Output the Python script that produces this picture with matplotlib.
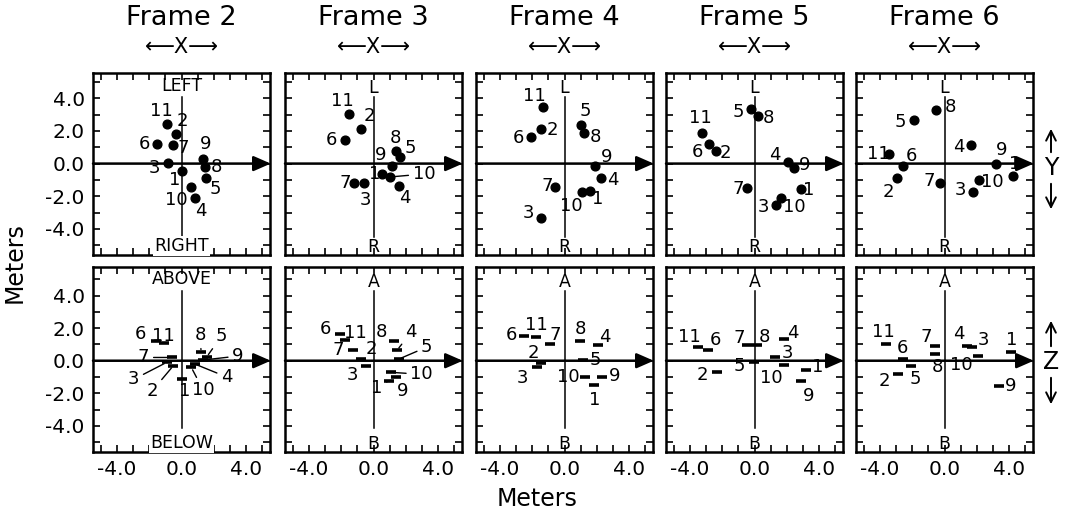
import matplotlib
matplotlib.use("Agg")
import matplotlib.pyplot as plt
from matplotlib.ticker import MultipleLocator, FuncFormatter

plt.rcParams['font.family'] = ['DejaVu Sans']

frames = ["Frame 2", "Frame 3", "Frame 4", "Frame 5", "Frame 6"]
point_ids = ["1", "2", "3", "4", "5", "6", "7", "8", "9", "10", "11"]

# Top row: X-Y view (points 1..11)
f2_xy_x = [0.06, -0.35, -0.86, 0.82, 1.53, -1.53, -0.55, 1.43, 1.33, 0.61, -0.88]
f2_y = [-0.47, 1.84, 0.04, -2.10, -0.88, 1.22, 1.16, -0.20, 0.31, -1.43, 2.45]
f3_xy_x = [0.55, -0.78, -0.57, 1.57, 1.67, -1.80, -1.22, 1.37, 1.12, 1.02, -1.53]
f3_y = [-0.61, 2.14, -1.18, -1.39, 0.41, 1.43, -1.16, 0.78, -0.16, -0.82, 3.06]
f4_xy_x = [1.61, -1.49, -1.49, 2.29, 1.02, -2.10, -0.57, 1.22, 1.92, 1.06, -1.35]
f4_y = [-1.67, 2.14, -3.31, -0.88, 2.35, 1.65, -1.41, 1.90, -0.14, -1.71, 3.49]
f5_xy_x = [2.90, -2.41, 1.31, 2.08, -0.20, -2.82, -0.47, 0.20, 2.45, 1.67, -3.27]
f5_y = [-1.57, 0.78, -2.55, 0.12, 3.33, 1.22, -1.51, 2.92, -0.29, -2.12, 1.88]
f6_xy_x = [4.27, -2.94, 1.76, 1.65, -1.92, -2.57, -0.27, -0.51, 3.20, 2.16, -3.45]
f6_y = [-0.73, -0.86, -1.73, 1.12, 2.69, -0.14, -1.16, 3.27, 0.00, -1.02, 0.61]

# Bottom row: X-Z view (points 1..11)
f2_xz_x = [0.06, -0.51, -0.92, 0.82, 1.57, -1.57, -0.61, 1.22, 1.33, 0.61, -1.08]
f2_z = [-1.12, -0.31, -0.10, -0.20, 0.24, 1.18, 0.20, 0.51, 0.04, -0.41, 1.08]
f3_xz_x = [0.96, -0.78, -0.47, 1.47, 1.57, -2.10, -1.29, 1.27, 1.37, 1.06, -1.76]
f3_z = [-1.22, 0.10, -0.31, 0.65, 0.10, 1.67, 0.65, 1.18, -0.98, -0.71, 1.27]
f4_xz_x = [1.84, -1.49, -1.69, 2.08, 1.16, -2.50, -0.88, 0.96, 2.35, 1.27, -1.76]
f4_z = [-1.47, -0.14, -0.39, 0.98, 0.06, 1.53, 1.04, 1.24, -1.02, -0.98, 1.45]
f5_xz_x = [3.20, -2.31, 1.27, 1.84, -0.06, -2.86, -0.47, 0.14, 2.90, 1.84, -3.53]
f5_z = [-0.55, -0.69, 0.20, 1.35, -0.10, 0.67, 0.98, 0.98, -1.27, -0.24, 0.82]
f6_xz_x = [4.14, -2.86, 1.69, 1.39, -2.08, -2.59, -0.59, -0.59, 3.39, 2.10, -3.61]
f6_z = [0.51, -0.82, 0.82, 0.92, -0.31, 0.10, 0.92, 0.41, -1.53, 0.27, 1.02]

x_tick_labels = ["-4.0", "0.0", "4.0"]
y_tick_labels = ["-4.0", "-2.0", "0.0", "2.0", "4.0"]

top_data = [(f2_xy_x, f2_y), (f3_xy_x, f3_y), (f4_xy_x, f4_y), (f5_xy_x, f5_y), (f6_xy_x, f6_y)]
bot_data = [(f2_xz_x, f2_z), (f3_xz_x, f3_z), (f4_xz_x, f4_z), (f5_xz_x, f5_z), (f6_xz_x, f6_z)]

# label placement (pixel offsets) and leader flags -- styling only
top_off = [
    [(-8,-9),(7,13),(-13,-5),(6,-13),(9,-11),(-12,0),(11,-3),(12,0),(3,15),(-15,-13),(-6,13)],
    [(-8,0),(8,13),(1,-17),(6,-12),(10,9),(-13,0),(-9,0),(0,13),(-11,11),(34,3),(-7,13)],
    [(7,-8),(12,-1),(-12,5),(11,-2),(4,14),(-12,-1),(-8,1),(11,-4),(11,9),(-10,-14),(-8,11)],
    [(8,-1),(10,-2),(-12,-2),(-13,7),(-13,-3),(-12,-8),(-9,-1),(11,-2),(11,3),(13,-9),(-2,15)],
    [(1,12),(-9,-14),(-12,2),(-12,-2),(-13,-2),(8,10),(-11,2),(14,3),(6,14),(13,-2),(-11,0)],
]
top_lead = [[False]*11, [False]*9 + [True, False], [False]*11, [False]*11, [False]*11]
bot_off = [
    [(2,-12),(-21,-25),(-33,-17),(32,-13),(15,21),(-16,7),(-28,0),(-1,17),(35,4),(12,-23),(-1,7)],
    [(-12,-7),(10,10),(-13,-9),(14,18),(28,12),(-14,5),(-14,0),(-12,9),(7,-14),(31,-2),(10,7)],
    [(1,-15),(-7,10),(-15,-11),(7,8),(12,0),(-13,1),(5,9),(0,12),(12,1),(-17,0),(0,12)],
    [(12,3),(-15,-3),(13,4),(9,6),(-14,-4),(7,10),(-8,7),(8,8),(7,-15),(-13,-13),(-8,10)],
    [(1,12),(-14,-7),(12,7),(-8,12),(4,-13),(0,11),(-9,9),(2,-13),(12,0),(-17,-9),(-3,12)],
]
bot_lead = [
    [False, True, True, True, True, False, True, True, True, True, False],
    [True, False, False, True, True, False, False, False, False, True, False],
    [False]*11, [False]*11, [False]*11,
]

W, H = 1069, 514
fig = plt.figure(figsize=(W/100, H/100), dpi=100)
lefts = [93, 285, 476, 666, 856]
pw = 177
rows = [(73, 255), (267, 452)]
XLIM = (-5.5, 5.5)
YLIMS = [(-5.6, 5.55), (-5.6, 5.75)]

def style_axes(ax, col, row):
    ax.set_xlim(*XLIM)
    ax.set_ylim(*YLIMS[row])
    for s in ax.spines.values():
        s.set_linewidth(1.8)
    ax.xaxis.set_major_locator(MultipleLocator(1))
    ax.yaxis.set_major_locator(MultipleLocator(1))
    ax.tick_params(which='both', direction='in', length=5, width=1.2,
                   top=True, right=True, labelsize=14.5, pad=6)
    def xf(v, p):
        if row == 1 and round(v) in (-4, 0, 4):
            return x_tick_labels[[-4, 0, 4].index(round(v))]
        return ""
    def yf(v, p):
        if col == 0 and round(v) in (-4, -2, 0, 2, 4):
            return y_tick_labels[[-4, -2, 0, 2, 4].index(round(v))]
        return ""
    ax.xaxis.set_major_formatter(FuncFormatter(xf))
    ax.yaxis.set_major_formatter(FuncFormatter(yf))
    # horizontal axis with arrow
    ax.annotate('', xy=(XLIM[1] + 0.05, 0), xytext=(XLIM[0], 0),
                arrowprops=dict(arrowstyle='-|>,head_length=0.8,head_width=0.35',
                                lw=1.8, color='black', shrinkA=0, shrinkB=0,
                                mutation_scale=13), annotation_clip=False)

for c in range(5):
    for r in range(2):
        top, bot = rows[r]
        ax = fig.add_axes([lefts[c]/W, 1 - bot/H, pw/W, (bot - top)/H])
        style_axes(ax, c, r)
        if r == 0:
            xs, ys = top_data[c]
            ax.plot([0, 0], [4.1, -4.5], color='black', lw=1.1)
            ax.plot(xs, ys, 'o', color='black', ms=6.3, zorder=4)
            offs, leads = top_off[c], top_lead[c]
            if c == 0:
                ax.text(0, 4.75, 'LEFT', ha='center', va='center', fontsize=12.5)
                ax.text(0, -5.05, 'RIGHT', ha='center', va='center', fontsize=12.5,
                        bbox=dict(fc='white', ec='none', pad=1))
            else:
                ax.text(0, 4.65, 'L', ha='center', va='center', fontsize=12.5)
                ax.text(0, -5.1, 'R', ha='center', va='center', fontsize=12.5)
        else:
            xs, ys = bot_data[c]
            ax.plot([0, 0], [4.3, -4.1], color='black', lw=1.1)
            ax.plot(xs, ys, '_', color='black', ms=7, mew=2.6, zorder=4)
            offs, leads = bot_off[c], bot_lead[c]
            if c == 0:
                ax.text(0, 5.0, 'ABOVE', ha='center', va='center', fontsize=12.5)
                ax.text(0, -5.05, 'BELOW', ha='center', va='center', fontsize=12.5,
                        bbox=dict(fc='white', ec='none', pad=1))
            else:
                ax.text(0, 4.85, 'A', ha='center', va='center', fontsize=12.5)
                ax.text(0, -5.1, 'B', ha='center', va='center', fontsize=12.5)
        for i, pid in enumerate(point_ids):
            kw = {}
            if leads[i]:
                kw['arrowprops'] = dict(arrowstyle='-', lw=1.0, color='black',
                                        shrinkA=1, shrinkB=2)
            ax.annotate(pid, xy=(xs[i], ys[i]), xytext=offs[i],
                        textcoords='offset pixels', ha='center', va='center',
                        fontsize=13, zorder=5, **kw)
        if r == 0:
            cx = (lefts[c] + pw/2) / W
            fig.text(cx, 1 - 18/H, frames[c], ha='center', va='center', fontsize=19.5)
            fig.text(cx, 1 - 47/H, '\u27f5X\u27f6', ha='center', va='center', fontsize=15)

fig.text(15/W, 1 - 263/H, 'Meters', rotation=90, ha='center', va='center', fontsize=17)
fig.text(537/W, 1 - 499/H, 'Meters', ha='center', va='center', fontsize=17)

# right-side direction indicators
for (lab, ymid, ytop, ybot) in [('Y', 168, 126, 212), ('Z', 362, 318, 407)]:
    fig.text(1051/W, 1 - ymid/H, lab, ha='center', va='center', fontsize=17)
    fig.add_artist(matplotlib.patches.FancyArrowPatch(
        (1051/W, 1 - (ymid - 13)/H), (1051/W, 1 - ytop/H), transform=fig.transFigure,
        arrowstyle='->,head_length=0.5,head_width=0.25', mutation_scale=14, lw=1.4, color='black'))
    fig.add_artist(matplotlib.patches.FancyArrowPatch(
        (1051/W, 1 - (ymid + 13)/H), (1051/W, 1 - ybot/H), transform=fig.transFigure,
        arrowstyle='->,head_length=0.5,head_width=0.25', mutation_scale=14, lw=1.4, color='black'))

fig.savefig('out.png', dpi=100)
